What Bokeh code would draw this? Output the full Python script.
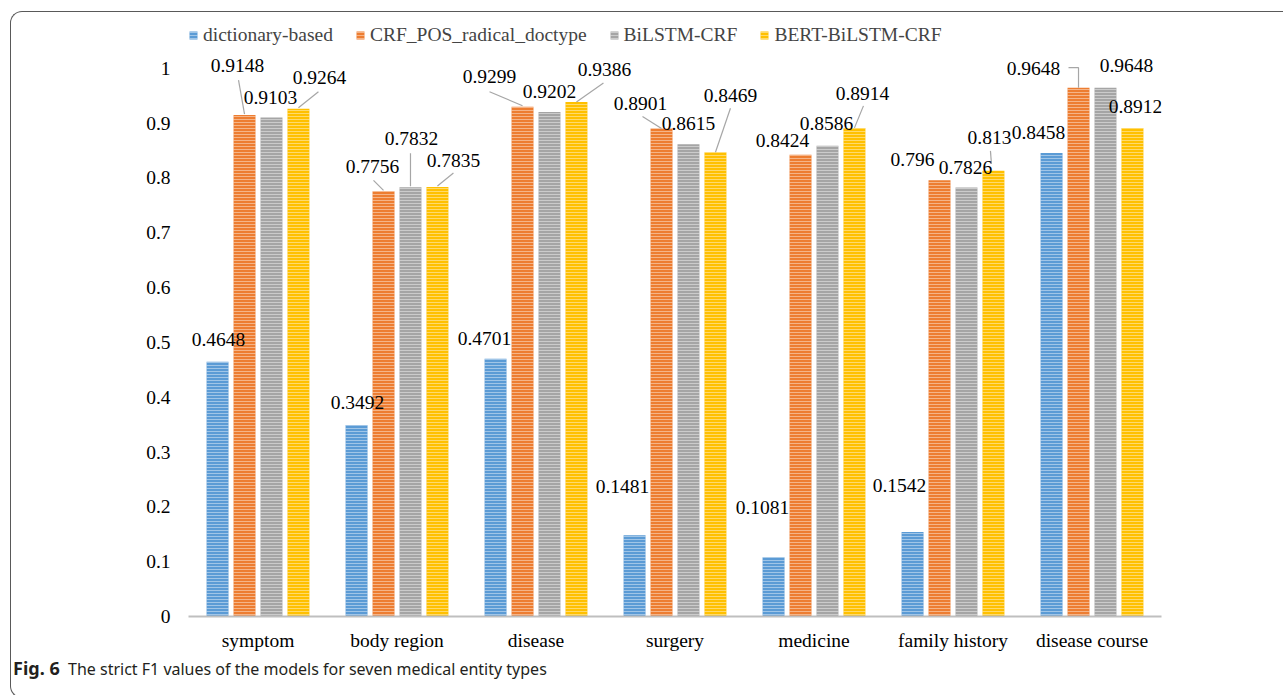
from bokeh.plotting import figure
from bokeh.layouts import column
from bokeh.models import (FactorRange, Range1d, Legend, LegendItem, FixedTicker,
                          CustomJSTickFormatter, Div, ColumnDataSource)
from bokeh.embed import file_html
from bokeh.resources import INLINE
from bokeh.core.properties import value

# ---------------- data ----------------
categories = ["symptom", "body region", "disease", "surgery", "medicine",
              "family history", "disease course"]
series_names = ["dictionary-based", "CRF_POS_radical_doctype", "BiLSTM-CRF", "BERT-BiLSTM-CRF"]
dictionary_based = [0.4648, 0.3492, 0.4701, 0.1481, 0.1081, 0.1542, 0.8458]
crf_pos_radical_doctype = [0.9148, 0.7756, 0.9299, 0.8901, 0.8424, 0.796, 0.9648]
bilstm_crf = [0.9103, 0.7832, 0.9202, 0.8615, 0.8586, 0.7826, 0.9648]
bert_bilstm_crf = [0.9264, 0.7835, 0.9386, 0.8469, 0.8914, 0.813, 0.8912]
series_values = [dictionary_based, crf_pos_radical_doctype, bilstm_crf, bert_bilstm_crf]
y_ticks = [0, 0.1, 0.2, 0.3, 0.4, 0.5, 0.6, 0.7, 0.8, 0.9, 1]
caption_bold = "Fig. 6"
caption_text = "The strict F1 values of the models for seven medical entity types"

# ---------------- style / layout ----------------
colors = ["#5B9BD5", "#ED7D31", "#A5A5A5", "#FFC000"]
bar_offsets = [-0.291, -0.097, 0.097, 0.291]
bar_width = 0.158
FRAME_W, FRAME_H = 973, 592
Y_MAX = 1.08
PX_X = FRAME_W / len(categories)
PX_Y = FRAME_H / Y_MAX
SERIF = "Liberation Serif"
FS = "19.5px"

# label offsets (pixels, relative to bar top centre) per series
label_dx = [
    [1, 1, -11, -12, -11, -13, -13],
    [-7, -11, -33, -21, -18, -27, -45],
    [-1, 1, 0, 0, -1, -1, 21],
    [21, 16, 28, 15, 8, -4, 3],
]
label_dy = [
    [-22, -23, -20, -49, -50, -46, -20],
    [-50, -25, -30, -25, -14, -21, -19],
    [-20, -49, -21, -21, -22, -20, -22],
    [-31, -27, -33, -57, -34, -33, -21],
]
# leader lines: (series, category, [(dx, dy), ...]) pixels from bar top centre
leaders = [
    (1, 0, [(0, -1), (-6, -35)]),
    (3, 0, [(0, -1), (20, -17)]),
    (1, 1, [(0, -1), (-10, -11)]),
    (2, 1, [(0, -1), (0, -34)]),
    (3, 1, [(0, -1), (16, -14)]),
    (1, 2, [(0, -1), (-33, -15)]),
    (3, 2, [(0, 0), (27, -19)]),
    (1, 3, [(0, 0), (-19, -12)]),
    (3, 3, [(0, 0), (15, -44)]),
    (3, 4, [(0, 0), (9, -22)]),
    (3, 5, [(-2, -7), (-3, -20)]),
    (1, 6, [(0, 0), (0, -20), (-10, -20)]),
]

p = figure(x_range=FactorRange(factors=categories, range_padding=0),
           y_range=Range1d(0, Y_MAX),
           frame_width=FRAME_W, frame_height=FRAME_H,
           min_border_left=177, min_border_right=122,
           min_border_top=12, min_border_bottom=40,
           output_backend="svg", toolbar_location=None,
           background_fill_color=None, border_fill_color=None)
p.outline_line_color = None
p.xgrid.grid_line_color = None
p.ygrid.grid_line_color = None

renderers = []
xs_all = []
for s, vals in enumerate(series_values):
    xs = [i + 0.5 + bar_offsets[s] for i in range(len(categories))]
    xs_all.append(xs)
    src = ColumnDataSource(dict(x=xs, top=vals))
    r = p.vbar(x="x", top="top", width=bar_width, bottom=0, source=src,
               fill_color=colors[s], line_color=None,
               hatch_pattern="horizontal_line", hatch_color="white",
               hatch_alpha=0.42, hatch_scale=3, hatch_weight=1)
    renderers.append(r)

lx, ly = [], []
for s, c, pts in leaders:
    x0 = c + 0.5 + bar_offsets[s]
    y0 = series_values[s][c]
    lx.append([x0 + dx / PX_X for dx, dy in pts])
    ly.append([y0 - dy / PX_Y for dx, dy in pts])
p.multi_line(xs=lx, ys=ly, line_color="#A6A6A6", line_width=1.2)

for s, vals in enumerate(series_values):
    lsrc = ColumnDataSource(dict(x=xs_all[s], y=vals, text=[str(v) for v in vals],
                                 dx=label_dx[s], dy=label_dy[s]))
    p.text(x="x", y="y", text="text", x_offset="dx", y_offset="dy", source=lsrc,
           text_align="center", text_baseline="middle",
           text_font=value(SERIF), text_font_size=FS, text_color="#000000")

# axes
p.yaxis.ticker = FixedTicker(ticks=y_ticks)
p.yaxis.formatter = CustomJSTickFormatter(code="return String(Math.round(tick*10)/10)")
p.yaxis.axis_line_color = None
p.yaxis.major_tick_line_color = None
p.yaxis.minor_tick_line_color = None
p.yaxis.major_label_standoff = 12
p.yaxis.major_label_text_font = SERIF
p.yaxis.major_label_text_font_size = FS
p.yaxis.major_label_text_color = "#000000"

p.xaxis.axis_line_color = "#BFBFBF"
p.xaxis.axis_line_width = 2
p.xaxis.major_tick_line_color = None
p.xaxis.minor_tick_line_color = None
p.xaxis.major_label_standoff = 7
p.xaxis.major_label_text_font = SERIF
p.xaxis.major_label_text_font_size = FS
p.xaxis.major_label_text_color = "#000000"

legend = Legend(items=[LegendItem(label=n, renderers=[r]) for n, r in zip(series_names, renderers)],
                orientation="horizontal", location="top_left",
                padding=4, margin=0, spacing=22, label_standoff=5,
                glyph_width=10, glyph_height=10, label_height=20,
                label_text_font=SERIF, label_text_font_size=FS,
                background_fill_alpha=0, border_line_color=None)
p.add_layout(legend, "center")

caption = Div(text=f'<span style="font-weight:bold;font-size:18px">{caption_bold}</span>'
                   f'&nbsp;&nbsp;{caption_text}',
              width=800, height=31,
              styles={"font-family": "'Noto Sans'", "font-size": "16px",
                      "color": "#231F20", "line-height": "22px",
                      "position": "relative", "left": "-3px", "top": "-4px"})

layout = column(p, caption, spacing=0,
                styles={"margin-left": "10px", "margin-top": "11px",
                        "border-left": "1.5px solid #595959",
                        "border-top": "1.5px solid #595959",
                        "border-bottom": "1.5px solid #595959",
                        "border-top-left-radius": "12px",
                        "border-bottom-left-radius": "12px"})

open("out.html", "w").write(file_html(layout, INLINE))
